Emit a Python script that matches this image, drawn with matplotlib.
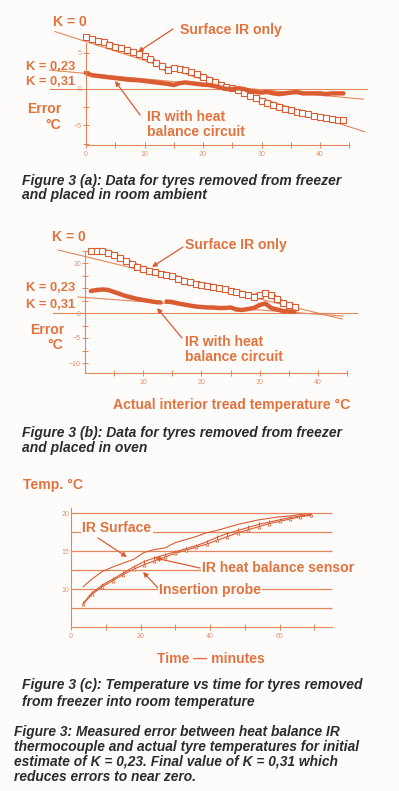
import numpy as np
import matplotlib.pyplot as plt

plt.rcParams['font.family'] = ['Liberation Sans', 'DejaVu Sans']

# ---- data ----
# fig 3(a): error vs actual temperature, room ambient
xa = list(range(0, 45))
surf_a = [7.1, 6.9, 6.6, 6.4, 6.1, 5.8, 5.6, 5.3, 5.1, 4.8, 4.5, 4.1, 3.6, 3.1, 2.6,
          2.9, 2.8, 2.6, 2.3, 2.0, 1.7, 1.3, 1.0, 0.6, 0.3, 0.1, -0.1, -0.5, -0.9, -1.3,
          -1.6, -1.9, -2.2, -2.5, -2.7, -2.9, -3.1, -3.3, -3.5, -3.7, -3.9, -4.0, -4.1, -4.2, -4.2]
heat_a = [2.2, 1.9, 1.8, 1.7, 1.6, 1.5, 1.4, 1.3, 1.25, 1.2, 1.1, 1.0, 0.9, 0.8, 0.7,
          0.55, 0.8, 0.9, 0.8, 0.7, 0.6, 0.55, 0.4, 0.2, 0.0, 0.0, 0.1, 0.0, -0.3, -0.4,
          -0.5, -0.4, -0.6, -0.7, -0.6, -0.5, -0.4, -0.6, -0.6, -0.6, -0.6, -0.7, -0.6, -0.6, -0.6]
k0_a_x, k0_a_y = [-5.3, 47.7], [7.9, -5.9]
k23_a_x, k23_a_y = [-6.2, 47.4], [2.6, -1.4]
k31_a_x, k31_a_y = [-6.2, 48.0], [0.0, 0.0]

# fig 3(b): error vs actual temperature, oven
xb = list(range(1, 37))
surf_b = [12.4, 12.4, 12.4, 12.1, 11.6, 11.0, 10.4, 9.9, 9.3, 8.8, 8.5, 8.2, 7.9, 7.7,
          7.4, 6.9, 6.5, 6.2, 5.9, 5.7, 5.5, 5.3, 5.0, 4.8, 4.5, 4.2, 3.9, 3.6, 3.3, 3.6,
          4.0, 3.6, 2.8, 2.0, 1.6, 1.3]
xb_heat = [1, 2, 3, 4, 5, 6, 7, 8, 9, 10, 11, 12, 13, 13.5, 14, 15, 16, 17, 18, 19, 20,
           21, 22, 23, 24, 25, 26, 27, 28, 29, 30, 31, 32, 33, 34, 35, 36]
heat_b = [4.4, 4.6, 4.7, 4.6, 4.2, 3.8, 3.4, 3.1, 2.8, 2.6, 2.4, 2.2, 2.1, np.nan, 2.3,
          2.2, 1.9, 1.7, 1.5, 1.3, 1.2, 1.1, 1.1, 1.0, 1.0, 1.1, 0.7, 0.6, 0.8, 1.0, 1.6,
          1.9, 1.0, 0.7, 0.4, 0.3, 0.3]
k0_b_x, k0_b_y = [-4.6, 44.2], [12.6, -1.2]
k23_b_x, k23_b_y = [-1.2, 44.3], [3.2, -0.6]
k31_b_x, k31_b_y = [-5.5, 46.7], [0.0, 0.0]

# fig 3(c): temperature vs time
t_c = [3.5, 6, 9, 12, 15, 18, 21, 24, 27, 30, 33, 36, 39, 42, 45, 48, 51, 54, 57, 60, 63, 66, 69]
ir_surface = [10.3, 11.3, 12.3, 12.9, 13.4, 13.9, 14.8, 15.2, 15.4, 16.1, 16.5, 16.9, 17.4,
              17.7, 18.1, 18.5, 18.8, 19.1, 19.3, 19.5, 19.6, 19.8, 19.9]
heat_sensor = [8.1, 9.5, 10.5, 11.3, 12.1, 12.9, 13.6, 14.1, 14.5, 14.9, 15.3, 15.7, 16.2,
               16.8, 17.3, 17.7, 18.1, 18.5, 18.8, 19.1, 19.4, 19.6, 19.8]
insertion = [8.0, 9.3, 10.3, 11.1, 11.9, 12.6, 13.2, 13.7, 14.2, 14.7, 15.1, 15.5, 15.9,
             16.4, 16.9, 17.4, 17.8, 18.2, 18.6, 18.9, 19.2, 19.5, 19.7]
grid_c = [7.5, 10, 12.5, 15, 17.5, 20]

ORANGE = '#E0733F'
LINE = '#E3875B'
DATA = '#D95C32'
TICKC = '#E39470'
DARK = '#2b2b2b'
BG = '#FDFCFA'

W, H = 399, 791
fig = plt.figure(figsize=(W / 100, H / 100), dpi=100, facecolor=BG)


def fp(x, y):
    return (x / W, 1 - y / H)


def panel(ox, oy, sx, sy, xlim, ylim):
    left = ox + sx * xlim[0]
    right = ox + sx * xlim[1]
    top = oy - sy * ylim[1]
    bottom = oy - sy * ylim[0]
    ax = fig.add_axes([left / W, 1 - bottom / H, (right - left) / W, (bottom - top) / H])
    ax.set_xlim(xlim)
    ax.set_ylim(ylim)
    ax.patch.set_alpha(0)
    for s in ['top', 'right']:
        ax.spines[s].set_visible(False)
    for s in ['left', 'bottom']:
        ax.spines[s].set_color(LINE)
        ax.spines[s].set_linewidth(0.8)
    ax.tick_params(which='both', direction='inout', length=4, width=0.7, color=LINE,
                   labelsize=5, labelcolor=TICKC, pad=2)
    ax.tick_params(axis='y', pad=1)
    return ax


def txt(x, y, s, size=10.1, color=ORANGE, **kw):
    return fig.text(x / W, 1 - y / H, s, fontsize=size, color=color, fontweight='bold',
                    va='center', **kw)


def arrow(x0, y0, x1, y1):
    fig.axes[-1].annotate('', xy=fp(x1, y1), xycoords='figure fraction',
                          xytext=fp(x0, y0), textcoords='figure fraction',
                          arrowprops=dict(arrowstyle='-|>', color=DATA, lw=0.9,
                                          mutation_scale=7, shrinkA=0, shrinkB=0))


def chain(ax, x, y):
    # open-square trace
    ax.plot(x, y, color=DATA, lw=3.6, solid_capstyle='butt')
    ax.plot(x, y, color='white', lw=1.5)
    ax.plot(x, y, ls='none', marker='s', ms=3.9, mfc='white', mec=DATA, mew=0.8)


# ---------- (a) ----------
ax = panel(86, 89, 5.85, 7.27, (-8, 50), (-9.5, 9))
ax.spines['left'].set_position(('data', 0))
ax.spines['left'].set_bounds(-7.7, 6.3)
ax.spines['bottom'].set_position(('data', -7.7))
ax.spines['bottom'].set_bounds(0, 45)
ax.set_xticks([0, 10, 20, 30, 40])
ax.set_xticks([5, 15, 25, 35, 45], minor=True)
ax.set_yticks([-5, 0, 5])
ax.set_yticks([-7.5, -2.5, 2.5], minor=True)
for x, y in [(k0_a_x, k0_a_y), (k23_a_x, k23_a_y), (k31_a_x, k31_a_y)]:
    ax.plot(x, y, color=LINE, lw=0.8, clip_on=False)
chain(ax, xa, surf_a)
ax.plot(xa, heat_a, color=DATA, lw=3.2, solid_capstyle='round')

txt(53, 22, 'K = 0')
txt(180, 30, 'Surface IR only')
arrow(173, 29, 138, 52)
txt(26, 67, 'K = 0,23', size=9.3)
txt(26, 82, 'K = 0,31', size=9.3)
txt(27, 109, 'Error')
txt(45, 125, '°C')
txt(147, 117, 'IR with heat')
txt(147, 132, 'balance circuit')
arrow(140, 115, 115, 81)
txt(22, 181, 'Figure 3 (a): Data for tyres removed from freezer', size=10, color=DARK, style='italic')
txt(22, 195, 'and placed in room ambient', size=10, color=DARK, style='italic')

# ---------- (b) ----------
ax = panel(85, 313, 5.82, 5.0, (-8, 50), (-14, 15))
ax.spines['left'].set_position(('data', 0))
ax.spines['left'].set_bounds(-12, 12.2)
ax.spines['bottom'].set_position(('data', -12))
ax.spines['bottom'].set_bounds(0, 45)
ax.set_xticks([10, 20, 30, 40])
ax.set_xticks([5, 15, 25, 35, 45], minor=True)
ax.set_yticks([-10, -5, 0, 10])
ax.set_yticks([-7.5, -2.5, 2.5, 5, 7.5, 12.5], minor=True)
for x, y in [(k0_b_x, k0_b_y), (k23_b_x, k23_b_y), (k31_b_x, k31_b_y)]:
    ax.plot(x, y, color=LINE, lw=0.8, clip_on=False)
chain(ax, xb, surf_b)
ax.plot(xb_heat, heat_b, color=DATA, lw=3.2, solid_capstyle='round')

txt(52, 237, 'K = 0')
txt(185, 245, 'Surface IR only')
arrow(183, 247, 152, 267)
txt(26, 288, 'K = 0,23', size=9.3)
txt(26, 305, 'K = 0,31', size=9.3)
txt(30, 330, 'Error')
txt(47, 345, '°C')
txt(185, 342, 'IR with heat')
txt(185, 357, 'balance circuit')
arrow(182, 338, 157, 308)
txt(113, 405, 'Actual interior tread temperature °C')
txt(22, 433, 'Figure 3 (b): Data for tyres removed from freezer', size=10, color=DARK, style='italic')
txt(22, 448, 'and placed in oven', size=10, color=DARK, style='italic')

# ---------- (c) ----------
ax = panel(71, 665, 3.475, 7.6, (-3, 80), (3.5, 21.5))
ax.spines['left'].set_position(('data', 0))
ax.spines['left'].set_bounds(5, 20.6)
ax.spines['bottom'].set_position(('data', 5))
ax.spines['bottom'].set_bounds(0, 75)
ax.set_xticks([0, 20, 40, 60])
ax.set_xticks([10, 30, 50, 70], minor=True)
ax.set_yticks([10, 15, 20])
ax.tick_params(axis='y', length=0)
ax.hlines(grid_c, 0, 75, color=LINE, lw=0.9)
ax.plot(t_c, ir_surface, color=DATA, lw=0.8)
ax.plot(t_c, heat_sensor, color=DATA, lw=0.8, marker='|', ms=3, mew=0.7)
ax.plot(t_c, insertion, color=DATA, lw=0.8, marker='^', ms=2.2, mfc='white', mew=0.5)

box = dict(facecolor=BG, edgecolor='none', pad=1.0)
txt(23, 485, 'Temp. °C')
txt(82, 528, 'IR Surface', bbox=box)
txt(202, 568, 'IR heat balance sensor', bbox=box)
txt(159, 590, 'Insertion probe', bbox=box)
arrow(98, 538, 127, 557)
arrow(200, 568, 155, 558)
arrow(159, 589, 143, 572)
txt(211, 659, 'Time — minutes', ha='center')
txt(22, 685, 'Figure 3 (c): Temperature vs time for tyres removed', size=10, color=DARK, style='italic')
txt(22, 702, 'from freezer into room temperature', size=10, color=DARK, style='italic')

caption = ['Figure 3: Measured error between heat balance IR',
           'thermocouple and actual tyre temperatures for initial',
           'estimate of K = 0,23. Final value of K = 0,31 which',
           'reduces errors to near zero.']
for i, line in enumerate(caption):
    txt(14, 732 + 15 * i, line, size=9.9, color=DARK, style='italic')

fig.savefig('out.png', dpi=100, facecolor=BG)
